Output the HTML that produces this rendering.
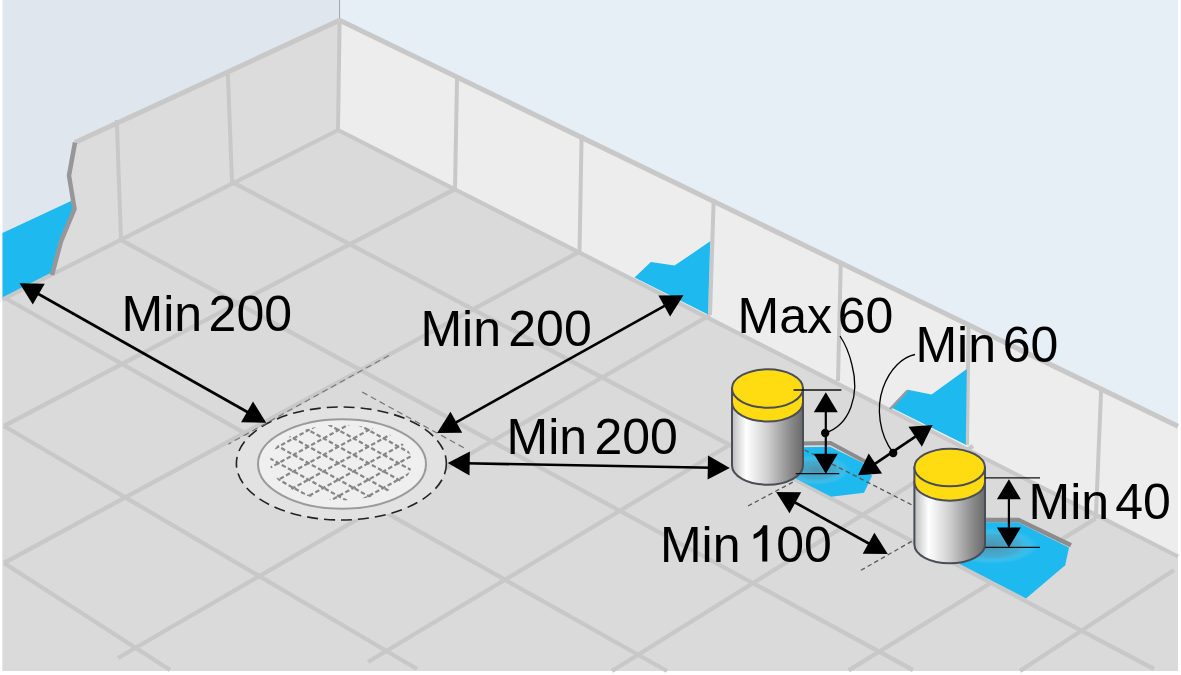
<!DOCTYPE html><html><head><meta charset="utf-8"><style>html,body{margin:0;padding:0;background:#fff}svg{display:block}</style></head><body><svg width="1181" height="675" viewBox="0 0 1181 675"><defs><linearGradient id="cg" x1="0" x2="1" y1="0" y2="0">
<stop offset="0" stop-color="#bdbdbd"/><stop offset="0.2" stop-color="#ffffff"/><stop offset="0.5" stop-color="#cfcfcf"/><stop offset="0.85" stop-color="#858585"/><stop offset="1" stop-color="#6a6a6a"/></linearGradient>
<radialGradient id="sh"><stop offset="0" stop-color="#6a7a82" stop-opacity="0.6"/><stop offset="0.6" stop-color="#7a9aaa" stop-opacity="0.4"/><stop offset="0.85" stop-color="#b0d8ea" stop-opacity="0.15"/><stop offset="1" stop-color="#c8e4f0" stop-opacity="0"/></radialGradient></defs>
<rect x="0" y="0" width="1181" height="675" fill="#ffffff"/>
<rect x="2.5" y="0" width="337" height="671" fill="#dfe6ee"/>
<rect x="339.5" y="0" width="838.5" height="671" fill="#e7eff6"/>
<line x1="339.6" y1="0" x2="339.6" y2="19" stroke="#a0a4a8" stroke-width="1"/>
<polygon points="339.6,20.3 75,142.5 69,175.5 74.5,209 61,241.5 52,275 338,130" fill="#dcdcdc"/>
<polygon points="339.6,20.3 1178,426 1178,557 338,130" fill="#ededed"/>
<polygon points="338,130 1178,557 1178,671 2.5,671 2.5,299.5" fill="#dadada"/>
<polygon points="2.5,233 71,201 74.5,209 61,241.5 52,275 2.5,299.5" fill="#1eb9ee"/>
<line x1="339.6" y1="20.3" x2="75" y2="142.5" stroke="#c8c8c8" stroke-width="5"/>
<line x1="339.6" y1="20.3" x2="1178" y2="426.3" stroke="#c8c8c8" stroke-width="5"/>
<line x1="339.6" y1="20.3" x2="338" y2="130" stroke="#c8c8c8" stroke-width="4"/>
<line x1="227.8" y1="72" x2="232" y2="182" stroke="#c8c8c8" stroke-width="4"/>
<line x1="116.8" y1="120" x2="121" y2="240" stroke="#c8c8c8" stroke-width="4"/>
<line x1="457.1" y1="75" x2="455" y2="189" stroke="#c8c8c8" stroke-width="4"/>
<line x1="581.6" y1="135" x2="579.5" y2="252" stroke="#c8c8c8" stroke-width="4"/>
<line x1="713.7" y1="199" x2="710" y2="315" stroke="#c8c8c8" stroke-width="4"/>
<line x1="840.8" y1="261" x2="838" y2="381" stroke="#c8c8c8" stroke-width="4"/>
<line x1="968.6" y1="324" x2="967" y2="445" stroke="#c8c8c8" stroke-width="4"/>
<line x1="1101.2" y1="388" x2="1095.8" y2="518.6" stroke="#c8c8c8" stroke-width="4"/>
<line x1="338" y1="130" x2="1178" y2="556.5" stroke="#c8c8c8" stroke-width="4.2"/>
<line x1="338.3" y1="130" x2="2.5" y2="299.5" stroke="#c8c8c8" stroke-width="4.2"/>
<line x1="232" y1="182" x2="1154" y2="669" stroke="#c8c8c8" stroke-width="4.3"/>
<line x1="121" y1="240" x2="913" y2="670" stroke="#c8c8c8" stroke-width="4.3"/>
<line x1="5" y1="298" x2="667" y2="671" stroke="#c8c8c8" stroke-width="4.3"/>
<line x1="4" y1="426" x2="417" y2="669" stroke="#c8c8c8" stroke-width="4.3"/>
<line x1="4" y1="563" x2="170" y2="670" stroke="#c8c8c8" stroke-width="4.3"/>
<line x1="455" y1="189" x2="4" y2="426" stroke="#c8c8c8" stroke-width="4.3"/>
<line x1="579" y1="252" x2="4" y2="563" stroke="#c8c8c8" stroke-width="4.3"/>
<line x1="710" y1="315" x2="118" y2="658" stroke="#c8c8c8" stroke-width="4.3"/>
<line x1="731" y1="444" x2="368" y2="662" stroke="#c8c8c8" stroke-width="4.3"/>
<line x1="973" y1="446" x2="612" y2="671" stroke="#c8c8c8" stroke-width="4.3"/>
<line x1="1095.5" y1="518.6" x2="848.7" y2="670.4" stroke="#c8c8c8" stroke-width="4.3"/>
<line x1="1174" y1="570" x2="1020" y2="671" stroke="#c8c8c8" stroke-width="4.3"/>
<polyline points="75,142.5 69,175.5 74.5,209 61,241.5 52,275" fill="none" stroke="#979797" stroke-width="4.5"/>
<polygon points="634.6,277.5 650.9,262 674.6,265.6 710.2,241.3 708,314.5" fill="#1eb9ee"/>
<polygon points="891.1,407.4 907.7,389.8 931.6,394.4 966.8,369 965.8,444.8" fill="#1eb9ee"/>
<polyline points="890,409 907.5,390.5" fill="none" stroke="#9a9a9a" stroke-width="2.5"/>
<ellipse cx="341.4" cy="463.5" rx="105" ry="56.5" fill="#e2e2e2" stroke="#222" stroke-width="1.6" stroke-dasharray="11 6"/>
<ellipse cx="342" cy="464" rx="84" ry="44.7" fill="#efefef" stroke="#9a9a9a" stroke-width="2"/>
<clipPath id="dc"><ellipse cx="341" cy="462.5" rx="71" ry="38"/></clipPath>
<g clip-path="url(#dc)" stroke="#868686" stroke-width="2.2" stroke-dasharray="4.5 2.5"><line x1="-21.5" y1="380.6" x2="218.5" y2="512.6"/><line x1="-21.5" y1="512.6" x2="218.5" y2="380.6"/><line x1="8.5" y1="380.6" x2="248.5" y2="512.6"/><line x1="8.5" y1="512.6" x2="248.5" y2="380.6"/><line x1="38.5" y1="380.6" x2="278.5" y2="512.6"/><line x1="38.5" y1="512.6" x2="278.5" y2="380.6"/><line x1="68.5" y1="380.6" x2="308.5" y2="512.6"/><line x1="68.5" y1="512.6" x2="308.5" y2="380.6"/><line x1="98.5" y1="380.6" x2="338.5" y2="512.6"/><line x1="98.5" y1="512.6" x2="338.5" y2="380.6"/><line x1="128.5" y1="380.6" x2="368.5" y2="512.6"/><line x1="128.5" y1="512.6" x2="368.5" y2="380.6"/><line x1="158.5" y1="380.6" x2="398.5" y2="512.6"/><line x1="158.5" y1="512.6" x2="398.5" y2="380.6"/><line x1="188.5" y1="380.6" x2="428.5" y2="512.6"/><line x1="188.5" y1="512.6" x2="428.5" y2="380.6"/><line x1="218.5" y1="380.6" x2="458.5" y2="512.6"/><line x1="218.5" y1="512.6" x2="458.5" y2="380.6"/><line x1="248.5" y1="380.6" x2="488.5" y2="512.6"/><line x1="248.5" y1="512.6" x2="488.5" y2="380.6"/><line x1="278.5" y1="380.6" x2="518.5" y2="512.6"/><line x1="278.5" y1="512.6" x2="518.5" y2="380.6"/><line x1="308.5" y1="380.6" x2="548.5" y2="512.6"/><line x1="308.5" y1="512.6" x2="548.5" y2="380.6"/><line x1="338.5" y1="380.6" x2="578.5" y2="512.6"/><line x1="338.5" y1="512.6" x2="578.5" y2="380.6"/><line x1="368.5" y1="380.6" x2="608.5" y2="512.6"/><line x1="368.5" y1="512.6" x2="608.5" y2="380.6"/><line x1="398.5" y1="380.6" x2="638.5" y2="512.6"/><line x1="398.5" y1="512.6" x2="638.5" y2="380.6"/><line x1="428.5" y1="380.6" x2="668.5" y2="512.6"/><line x1="428.5" y1="512.6" x2="668.5" y2="380.6"/><line x1="458.5" y1="380.6" x2="698.5" y2="512.6"/><line x1="458.5" y1="512.6" x2="698.5" y2="380.6"/></g>
<line x1="388.8" y1="355.5" x2="228.4" y2="444.1" stroke="#777" stroke-width="1.2" stroke-dasharray="6 4"/>
<line x1="362.1" y1="392" x2="464.8" y2="448.3" stroke="#777" stroke-width="1.2" stroke-dasharray="6 4"/>
<polygon points="800,447.3 830,446.7 862.7,462.7 872,476 864,492.7 831.3,496.7 796,478.7" fill="#1eb9ee"/>
<polyline points="800,443.6 830.5,443 865,461.5" fill="none" stroke="#8c8c8c" stroke-width="4"/>
<ellipse cx="816" cy="470" rx="34" ry="15" fill="url(#sh)"/>
<polygon points="980,522.2 1017.8,522.2 1069,547.4 1065.2,565.2 1026,598.5 959.3,563.7" fill="#1eb9ee"/>
<polyline points="980,520 1018.5,520 1071,545.2" fill="none" stroke="#8c8c8c" stroke-width="4.4"/>
<ellipse cx="992" cy="546" rx="46" ry="18" fill="url(#sh)"/>
<path d="M732.0,402.2 L732.0,465.5 A35.5,19.2 0 0 0 803.0,465.5 L803.0,402.2 Z" fill="url(#cg)" stroke="#4a4d58" stroke-width="2"/><path d="M732.0,388.5 L732.0,402.2 A35.5,19.2 0 0 0 803.0,402.2 L803.0,388.5 Z" fill="#ffdc12" stroke="#4a4d58" stroke-width="2"/><ellipse cx="767.5" cy="388.5" rx="35.5" ry="19.2" fill="#ffdc12" stroke="#4a4d58" stroke-width="2"/>
<path d="M914.4000000000001,481.9 L914.4000000000001,544.5 A35.3,18.8 0 0 0 985.0,544.5 L985.0,481.9 Z" fill="url(#cg)" stroke="#4a4d58" stroke-width="2"/><path d="M914.4000000000001,467.5 L914.4000000000001,481.9 A35.3,18.8 0 0 0 985.0,481.9 L985.0,467.5 Z" fill="#ffdc12" stroke="#4a4d58" stroke-width="2"/><ellipse cx="949.7" cy="467.5" rx="35.3" ry="18.8" fill="#ffdc12" stroke="#4a4d58" stroke-width="2"/>
<g stroke="#5a5a5a" stroke-width="1.3" stroke-dasharray="4.5 3.2" fill="none"><line x1="748" y1="506" x2="795" y2="481"/><line x1="804.7" y1="450" x2="913" y2="505.5"/><line x1="860.9" y1="570.3" x2="914" y2="540"/></g>
<g stroke="#111" stroke-width="1.3"><line x1="793.6" y1="390" x2="841.4" y2="390"/><line x1="795.7" y1="473.7" x2="839.3" y2="473.7"/><line x1="985.2" y1="477.8" x2="1040" y2="477.8"/><line x1="985.2" y1="547.4" x2="1040" y2="547.4"/></g>
<line x1="825.8" y1="408.2" x2="825.8" y2="457.7" stroke="#000" stroke-width="2.2"/><polygon points="825.8,392.2 837.8,412.2 813.8,412.2" fill="#000"/><polygon points="825.8,473.7 813.8,453.7 837.8,453.7" fill="#000"/>
<line x1="1008.9" y1="495.3" x2="1008.9" y2="531.4" stroke="#000" stroke-width="2.2"/><polygon points="1008.9,479.3 1020.9,499.3 996.9,499.3" fill="#000"/><polygon points="1008.9,547.4 996.9,527.4 1020.9,527.4" fill="#000"/>
<line x1="34.9" y1="292.0" x2="250.9" y2="414.0" stroke="#000" stroke-width="2.6"/><polygon points="19.6,283.3 44.7,283.7 32.8,304.6" fill="#000"/><polygon points="266.2,422.7 241.1,422.3 253.0,401.4" fill="#000"/>
<line x1="668.1" y1="303.9" x2="452.5" y2="424.3" stroke="#000" stroke-width="2.6"/><polygon points="683.5,295.3 670.1,316.5 658.4,295.5" fill="#000"/><polygon points="437.1,432.9 450.5,411.7 462.2,432.7" fill="#000"/>
<line x1="465.3" y1="463.3" x2="712.2" y2="467.7" stroke="#000" stroke-width="2.6"/><polygon points="447.7,463.0 469.9,451.4 469.5,475.4" fill="#000"/><polygon points="729.8,468.0 707.6,479.6 708.0,455.6" fill="#000"/>
<line x1="791.5" y1="500.5" x2="872.4" y2="545.5" stroke="#000" stroke-width="2.6"/><polygon points="776.1,492.0 801.2,492.2 789.5,513.2" fill="#000"/><polygon points="887.8,554.0 862.7,553.8 874.4,532.8" fill="#000"/>
<line x1="871.9" y1="465.9" x2="918.7" y2="434.4" stroke="#000" stroke-width="2.6"/><polygon points="858.0,475.3 868.7,453.6 882.1,473.5" fill="#000"/><polygon points="932.6,425.0 921.9,446.7 908.5,426.8" fill="#000"/>
<circle cx="825.2" cy="433" r="4.2" fill="#000"/><circle cx="893.2" cy="453" r="4.2" fill="#000"/>
<path d="M825.2,433 C850,425 860,395 852,365 C849,352 844,342 840,336" fill="none" stroke="#000" stroke-width="1.3"/>
<path d="M893.2,453 C879,434 876,408 883,388 C890,368 903,357 915,354.5" fill="none" stroke="#000" stroke-width="1.3"/>
<g>
<text x="121.6" y="331.1" font-family="Liberation Sans" font-size="50" fill="#000">Min</text>
<text x="208.6" y="331.1" font-family="Liberation Sans" font-size="50" fill="#000">200</text>
<text x="420.4" y="346.2" font-family="Liberation Sans" font-size="50" fill="#000">Min</text>
<text x="508.3" y="346.2" font-family="Liberation Sans" font-size="50" fill="#000">200</text>
<text x="506.5" y="454.0" font-family="Liberation Sans" font-size="50" fill="#000">Min</text>
<text x="594.4" y="454.0" font-family="Liberation Sans" font-size="50" fill="#000">200</text>
<text x="915.4" y="362.2" font-family="Liberation Sans" font-size="50" fill="#000">Min</text>
<text x="1002.8" y="362.2" font-family="Liberation Sans" font-size="50" fill="#000">60</text>
<text x="1028.6" y="519.3" font-family="Liberation Sans" font-size="50" fill="#000">Min</text>
<text x="1115.3" y="519.3" font-family="Liberation Sans" font-size="50" fill="#000">40</text>
<text x="659.9" y="561.5" font-family="Liberation Sans" font-size="50" fill="#000">Min</text>
<text x="776.3" y="561.5" font-family="Liberation Sans" font-size="50" fill="#000">00</text>
<path d="M767.3,525.3 L767.3,561.5 L762.3,561.5 L762.3,533.8 Q758.8,537.2 753.6,539 L753.6,534.4 Q760.5,531.5 763.3,525.3 Z" fill="#000"/>
<text x="737.5" y="332.5" font-family="Liberation Sans" font-size="50" fill="#000">Max</text>
<text x="837.8" y="332.5" font-family="Liberation Sans" font-size="50" fill="#000">60</text>
</g></svg></body></html>
